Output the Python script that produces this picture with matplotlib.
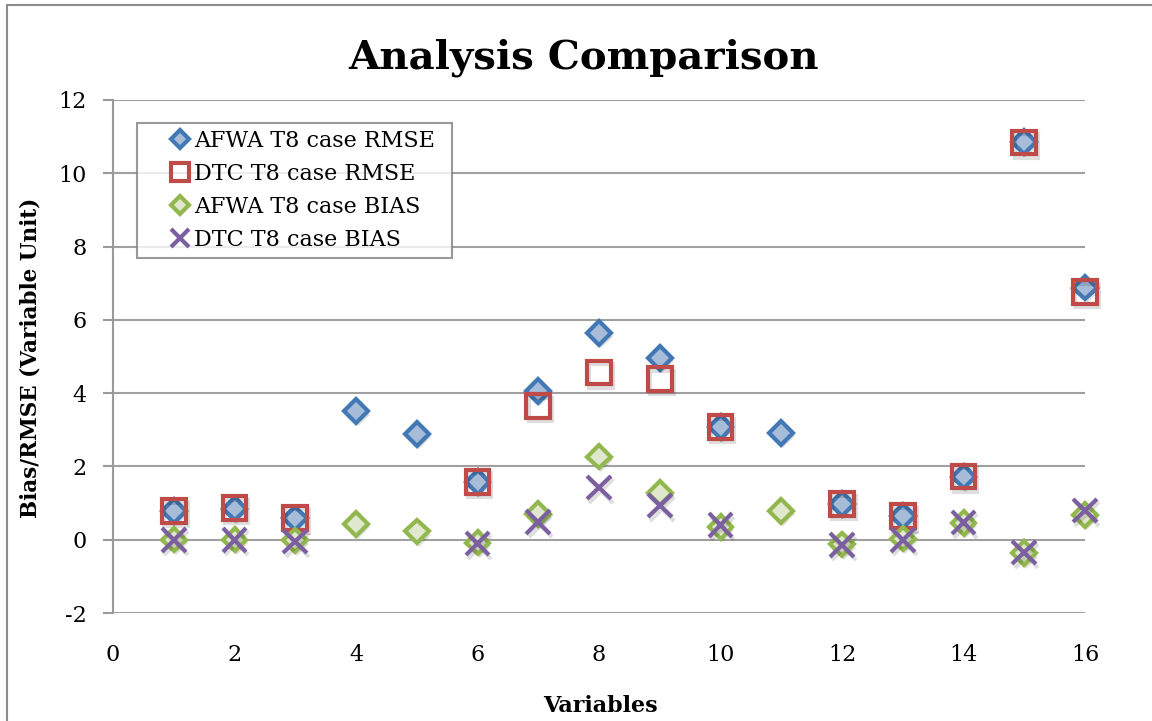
import numpy as np
import matplotlib
matplotlib.use("Agg")
import matplotlib.pyplot as plt
import matplotlib.patheffects as pe
from matplotlib.patches import Rectangle

# --------------------------------------------------------
# Data
# --------------------------------------------------------
afwa_rmse_x = [1, 2, 3, 4, 5, 6, 7, 8, 9, 10, 11, 12, 13, 14, 15, 16]
afwa_rmse = [0.78, 0.85, 0.58, 3.51, 2.89, 1.58, 4.06, 5.64, 4.96, 3.08, 2.92, 0.97, 0.64, 1.72, 10.85, 6.88]

dtc_rmse_x = [1, 2, 3, 6, 7, 8, 9, 10, 12, 13, 14, 15, 16]
dtc_rmse = [0.78, 0.87, 0.60, 1.58, 3.65, 4.56, 4.39, 3.08, 0.97, 0.64, 1.72, 10.84, 6.76]

afwa_bias_x = [1, 2, 3, 4, 5, 6, 7, 8, 9, 10, 11, 12, 13, 14, 15, 16]
afwa_bias = [0.0, 0.0, -0.02, 0.43, 0.23, -0.08, 0.70, 2.27, 1.28, 0.35, 0.79, -0.13, 0.03, 0.46, -0.37, 0.68]

dtc_bias_x = [1, 2, 3, 6, 7, 8, 9, 10, 12, 13, 14, 15, 16]
dtc_bias = [0.0, 0.0, -0.05, -0.10, 0.48, 1.42, 0.93, 0.40, -0.14, 0.0, 0.47, -0.35, 0.80]

x_ticks = [0, 2, 4, 6, 8, 10, 12, 14, 16]
y_ticks = [-2, 0, 2, 4, 6, 8, 10, 12]

SERIF = ["DejaVu Serif"]

# --------------------------------------------------------
# Figure
# --------------------------------------------------------
fig = plt.figure(figsize=(11.52, 7.21), dpi=100)
fig.patches.append(Rectangle((7 / 1152, -0.1), 1.2, 1.1 - 5 / 721,
                             transform=fig.transFigure, fill=False,
                             edgecolor="#8c8c8c", linewidth=1.5))

ax = fig.add_axes([113 / 1152, 1 - 613 / 721, (1085 - 113) / 1152, (613 - 100) / 721])
ax.set_xlim(0, 16)
ax.set_ylim(-2, 12)
ax.set_xticks(x_ticks)
ax.set_yticks(y_ticks)
ax.set_xticklabels([str(t) for t in x_ticks], family=SERIF, fontsize=16)
ax.set_yticklabels([str(t) for t in y_ticks], family=SERIF, fontsize=16)
ax.tick_params(axis="x", length=0, pad=22)
ax.tick_params(axis="y", length=7, width=1.5, color="#9a9a9a", pad=12)

ax.grid(axis="y", color="#a0a0a0", linewidth=1.5)
ax.set_axisbelow(True)
for side in ["top", "right", "bottom"]:
    ax.spines[side].set_visible(False)
ax.spines["left"].set_color("#9a9a9a")
ax.spines["left"].set_linewidth(1.5)

shadow_fill = [pe.SimplePatchShadow(offset=(1.5, -2.5), shadow_rgbFace="black", alpha=0.13), pe.Normal()]
shadow_line = [pe.SimpleLineShadow(offset=(1.5, -2.5), shadow_color="black", alpha=0.13), pe.Normal()]

ax.plot(afwa_rmse_x, afwa_rmse, linestyle="none", marker="D", markersize=12,
        markerfacecolor="#a6bcd8", markeredgecolor="#4279b5", markeredgewidth=3,
        label="AFWA T8 case RMSE", path_effects=shadow_fill, clip_on=False)
ax.plot(dtc_rmse_x, dtc_rmse, linestyle="none", marker="s", markersize=17,
        markerfacecolor="none", markeredgecolor="#be4b48", markeredgewidth=3,
        label="DTC T8 case RMSE", path_effects=shadow_line, clip_on=False)
ax.plot(afwa_bias_x, afwa_bias, linestyle="none", marker="D", markersize=12,
        markerfacecolor="#dfe7cc", markeredgecolor="#93b74f", markeredgewidth=3,
        label="AFWA T8 case BIAS", path_effects=shadow_fill, clip_on=False)
ax.plot(dtc_bias_x, dtc_bias, linestyle="none", marker="x", markersize=17,
        markeredgecolor="#7b5fa0", markeredgewidth=3,
        label="DTC T8 case BIAS", path_effects=shadow_line, clip_on=False)

leg_x0 = (137 - 113) / 972
leg_y1 = (613 - 123) / 513
leg_w = (452 - 137) / 972
leg = ax.legend(loc="upper left", bbox_to_anchor=(leg_x0, leg_y1 - 0.3, leg_w, 0.3),
                mode="expand", prop={"family": SERIF, "size": 16}, frameon=True, fancybox=False,
                handlelength=3.3, handletextpad=-1.05, borderpad=0.3, labelspacing=0.5,
                markerscale=0.75, borderaxespad=0)
leg.get_frame().set_edgecolor("#808080")
leg.get_frame().set_linewidth(1.5)
for h in leg.legend_handles:
    h.set_path_effects([])

fig.text(583 / 1152, 1 - 58 / 721, "Analysis Comparison", ha="center", va="center",
         family=SERIF, fontsize=29, fontweight="bold")
fig.text(600 / 1152, 1 - 706 / 721, "Variables", ha="center", va="center",
         family=SERIF, fontsize=16, fontweight="bold")
fig.text(31 / 1152, 1 - 358 / 721, "Bias/RMSE (Variable Unit)", ha="center", va="center",
         rotation=90, family=SERIF, fontsize=15.5, fontweight="bold")

fig.savefig("out.png", dpi=100)
